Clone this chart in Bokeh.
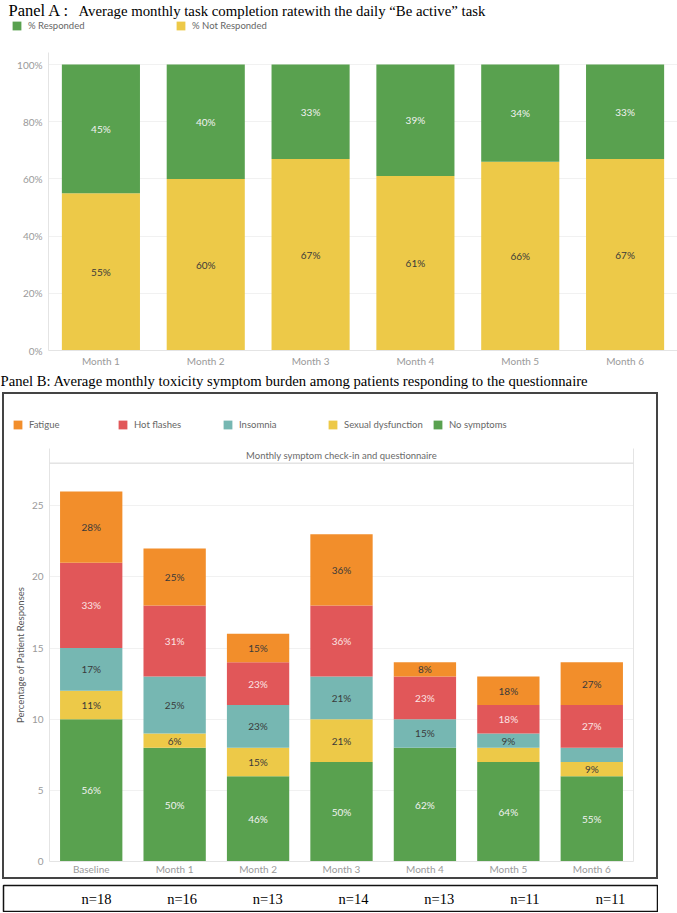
from bokeh.plotting import figure
from bokeh.models import (ColumnDataSource, Legend, LegendItem, Span, Label,
                          Range1d, FixedTicker, NumeralTickFormatter, LinearAxis)
from bokeh.layouts import column
from bokeh.core.properties import value
from bokeh.embed import file_html
from bokeh.resources import INLINE

# ---------------- Panel A data ----------------
months_a = ["Month 1", "Month 2", "Month 3", "Month 4", "Month 5", "Month 6"]
pct_responded = [45, 40, 33, 39, 34, 33]
pct_not_responded = [55, 60, 67, 61, 66, 67]
a_ticks = [0, 20, 40, 60, 80, 100]

# ---------------- Panel B data ----------------
cats_b = ["Baseline", "Month 1", "Month 2", "Month 3", "Month 4", "Month 5", "Month 6"]
no_symptoms = [10, 8, 6, 7, 8, 7, 6]
sexual_dysfunction = [2, 1, 2, 3, 0, 1, 1]
insomnia = [3, 4, 3, 3, 2, 1, 1]
hot_flashes = [6, 5, 3, 5, 3, 2, 3]
fatigue = [5, 4, 2, 5, 1, 2, 3]
lab_no_symptoms = ["56%", "50%", "46%", "50%", "62%", "64%", "55%"]
lab_sexual = ["11%", "6%", "15%", "21%", "", "", "9%"]
lab_insomnia = ["17%", "25%", "23%", "21%", "15%", "9%", ""]
lab_hot = ["33%", "31%", "23%", "36%", "23%", "18%", "27%"]
lab_fatigue = ["28%", "25%", "15%", "36%", "8%", "18%", "27%"]
n_patients = [18, 16, 13, 14, 13, 11, 11]
b_ticks = [0, 5, 10, 15, 20, 25]

TITLE_A1 = "Panel A :"
TITLE_A2 = "Average monthly task completion ratewith the daily \u201cBe active\u201d task"
TITLE_B = "Panel B: Average monthly toxicity symptom burden among patients responding to the questionnaire"
HEADER_B = "Monthly symptom check-in and questionnaire"

GREEN = "#59A14F"
YELLOW = "#EDC948"
ORANGE = "#F28E2B"
RED = "#E15759"
TEAL = "#76B7B2"
SANS = "Lato"
SERIF = "Liberation Serif"
DARK = "#3a3a3a"
LIGHT = "#f2f2f2"
BOX = "2px solid #444444"


def blank_fig(w, h):
    f = figure(width=w, height=h, x_range=Range1d(0, w), y_range=Range1d(0, h),
               output_backend="svg", toolbar_location=None, title=None,
               x_axis_type=None, y_axis_type=None,
               min_border_left=0, min_border_right=0, min_border_top=0, min_border_bottom=0,
               outline_line_color=None)
    f.xgrid.grid_line_color = None
    f.ygrid.grid_line_color = None
    f.frame_align = False
    return f


def make_legend(f, names, colors, label_width, loc):
    items = []
    for nm, col in zip(names, colors):
        # zero-size swatch renderer, only used to draw the legend square
        r = f.vbar(x=[0], bottom=[0], top=[0], width=0, fill_color=col, line_color=None)
        items.append(LegendItem(label=nm, renderers=[r]))
    leg = Legend(items=items, orientation="horizontal", location=loc,
                 glyph_width=11, glyph_height=11, label_standoff=6, label_width=label_width,
                 label_height=11, spacing=0, padding=0, margin=0,
                 border_line_color=None, background_fill_alpha=0,
                 label_text_font=SANS, label_text_font_size="9.5px",
                 label_text_color="#666666")
    f.add_layout(leg, "center")


def style_axes(p):
    for ax in p.axis:
        ax.major_tick_line_color = None
        ax.minor_tick_line_color = None
        ax.major_tick_out = 0
        ax.major_tick_in = 0
        ax.minor_tick_out = 0
        ax.axis_line_color = "#e4e4e4"
        ax.major_label_text_font = SANS
        ax.major_label_text_font_size = "10px"
        ax.major_label_text_color = "#9a9a9a"
    p.xgrid.grid_line_color = None
    p.ygrid.grid_line_color = "#f1f1f1"
    p.outline_line_color = None
    p.frame_align = False


# ================= Panel A header (title + legend) =================
ha = blank_fig(677, 48)
ha.add_layout(Label(x=8, y=38, text=TITLE_A1, text_font=SERIF, text_font_size="16.5px",
                    text_color="black", text_baseline="middle"))
ha.add_layout(Label(x=78, y=38, text=TITLE_A2, text_font=SERIF, text_font_size="14.8px",
                    text_color="black", text_baseline="middle"))
make_legend(ha, ["% Responded", "% Not Responded"], [GREEN, YELLOW], 147, (11, 17))

# ================= Panel A =================
nr = [v / 100 for v in pct_not_responded]
rr = [v / 100 for v in pct_responded]
srcA = ColumnDataSource(dict(month=months_a, nr=nr, r=rr))
pa = figure(x_range=months_a, y_range=Range1d(0, 1.042), width=677, height=322,
            output_backend="svg", toolbar_location=None, title=None,
            min_border_left=48, min_border_right=0, min_border_top=4, min_border_bottom=20)
pa.vbar_stack(["nr", "r"], x="month", width=0.745, fill_color=[YELLOW, GREEN],
              line_color=None, source=srcA)
labA = ColumnDataSource(dict(
    x=months_a + months_a,
    y=[a / 2 for a in nr] + [a + b / 2 for a, b in zip(nr, rr)],
    t=[f"{v}%" for v in pct_not_responded] + [f"{v}%" for v in pct_responded],
    c=[DARK] * len(months_a) + [LIGHT] * len(months_a)))
pa.text(x="x", y="y", text="t", text_color="c", source=labA, text_align="center",
        text_baseline="middle", text_font=value(SANS), text_font_size="10px")
style_axes(pa)
pa.yaxis.ticker = FixedTicker(ticks=[t / 100 for t in a_ticks])
pa.yaxis.formatter = NumeralTickFormatter(format="0%")
pa.yaxis.major_label_standoff = 6
pa.xaxis.major_label_standoff = 4

# ================= Panel B title =================
tb = blank_fig(677, 22)
tb.add_layout(Label(x=0, y=12, text=TITLE_B, text_font=SERIF, text_font_size="14.7px",
                    text_color="black", text_baseline="middle"))

# ================= Panel B header (legend) =================
hb = blank_fig(656, 56)
make_legend(hb, ["Fatigue", "Hot flashes", "Insomnia", "Sexual dysfunction", "No symptoms"],
            [ORANGE, RED, TEAL, YELLOW, GREEN], 88, (8, 20))
hb.styles = {"border-top": BOX, "border-left": BOX, "border-right": BOX}
hb.margin = (0, 0, 0, 2)

# ================= Panel B =================
srcB = ColumnDataSource(dict(cat=cats_b, no=no_symptoms, sex=sexual_dysfunction,
                             ins=insomnia, hot=hot_flashes, fat=fatigue))
pb = figure(x_range=cats_b, y_range=Range1d(0, 29.03), width=656, height=431,
            output_backend="svg", toolbar_location=None, title=None,
            min_border_left=45, min_border_right=27, min_border_top=0, min_border_bottom=18)
stack_keys = ["no", "sex", "ins", "hot", "fat"]
pb.vbar_stack(stack_keys, x="cat", width=0.747,
              fill_color=[GREEN, YELLOW, TEAL, RED, ORANGE], line_color=None, source=srcB)

series = [no_symptoms, sexual_dysfunction, insomnia, hot_flashes, fatigue]
labels = [lab_no_symptoms, lab_sexual, lab_insomnia, lab_hot, lab_fatigue]
tcolors = [LIGHT, DARK, DARK, "#fbe4e4", DARK]
xs, ys, ts, cs = [], [], [], []
base = [0] * len(cats_b)
for s, lab, col in zip(series, labels, tcolors):
    for i, c in enumerate(cats_b):
        xs.append(c)
        ys.append(base[i] + s[i] / 2)
        ts.append(lab[i])
        cs.append(col)
    base = [b + v for b, v in zip(base, s)]
labB = ColumnDataSource(dict(x=xs, y=ys, t=ts, c=cs))
pb.text(x="x", y="y", text="t", text_color="c", source=labB, text_align="center",
        text_baseline="middle", text_font=value(SANS), text_font_size="10px")
style_axes(pb)
pb.yaxis.ticker = FixedTicker(ticks=b_ticks)
pb.yaxis.axis_label = "Percentage of Patient Responses"
pb.yaxis.axis_label_text_font = SANS
pb.yaxis.axis_label_text_font_size = "9.5px"
pb.yaxis.axis_label_text_font_style = "normal"
pb.yaxis.axis_label_text_color = "#555555"
pb.yaxis.axis_label_standoff = 3
pb.yaxis.major_label_standoff = 6
pb.xaxis.major_label_standoff = 1
rax = LinearAxis(major_label_text_font_size="0px", major_tick_line_color=None,
                 minor_tick_line_color=None, major_tick_out=0, axis_line_color="#e4e4e4",
                 ticker=FixedTicker(ticks=[]))
pb.add_layout(rax, "right")
pb.add_layout(Span(location=28, dimension="width", line_color="#d6d6d6", line_width=1))
pb.add_layout(Label(x=len(cats_b) / 2, y=28.53, text=HEADER_B,
                    text_align="center", text_baseline="middle", text_font=SANS,
                    text_font_size="9.5px", text_color="#6a6a6a"))
pb.styles = {"border-bottom": BOX, "border-left": BOX, "border-right": BOX}
pb.margin = (0, 0, 0, 2)

# ================= n row =================
srcN = ColumnDataSource(dict(x=list(range(len(cats_b))), t=[f"n={n}" for n in n_patients]))
pn = figure(x_range=Range1d(-1.085, 6.548), y_range=Range1d(0, 1), width=656, height=28,
            output_backend="svg", toolbar_location=None, title=None,
            x_axis_type=None, y_axis_type=None,
            min_border_left=1, min_border_right=1, min_border_top=1, min_border_bottom=1,
            outline_line_color="#111111", outline_line_width=1.5)
pn.text(x="x", y=0.5, text="t", source=srcN, text_align="center", text_baseline="middle",
        text_font=value(SERIF), text_font_size="14.5px", text_color="black")
pn.xgrid.grid_line_color = None
pn.ygrid.grid_line_color = None
pn.frame_align = False
pn.margin = (5, 0, 0, 2)

layout = column(ha, pa, tb, hb, pb, pn, spacing=0)
open("out.html", "w").write(file_html(layout, INLINE))
